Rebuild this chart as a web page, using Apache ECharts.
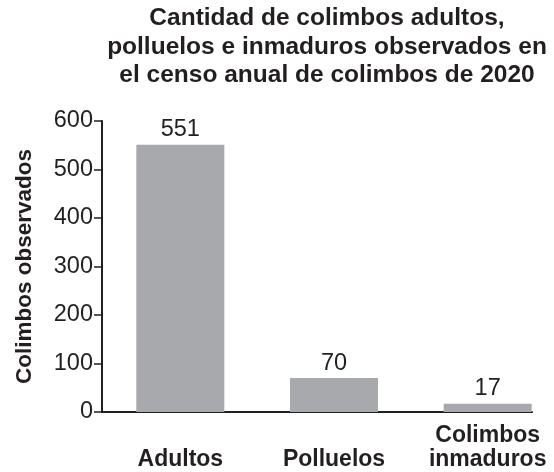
<!DOCTYPE html>
<html>
<head>
<meta charset="utf-8">
<script src="https://cdn.jsdelivr.net/npm/echarts@6/dist/echarts.min.js"></script>
<style>
  html, body { margin: 0; padding: 0; background: #fff; }
  #chart { width: 554px; height: 472px; }
</style>
</head>
<body>
<div id="chart"></div>
<script>
// Census counts by age group
const categories = ['Adultos', 'Polluelos', 'Colimbos\ninmaduros'];
const counts = [551, 70, 17];
const yTicks = { min: 0, max: 600, interval: 100 };

const ink = '#231f20';
const barGray = '#a7a9ac';
const font = 'Liberation Sans, Arial, Helvetica, sans-serif';

const chart = echarts.init(document.getElementById('chart'));
chart.setOption({
  animation: false,
  backgroundColor: '#fff',
  textStyle: { fontFamily: font, color: ink },
  title: {
    text: 'Cantidad de colimbos adultos,\npolluelos e inmaduros observados en\nel censo anual de colimbos de 2020',
    left: 322,
    top: -1,
    textAlign: 'center',
    textStyle: { fontFamily: font, fontWeight: 'bold', fontSize: 24.5, lineHeight: 28.5, color: ink }
  },
  grid: [
    // frame with the visible axes
    { left: 102, top: 121, width: 430, bottom: 60, outerBoundsMode: 'none' },
    // bar area
    { left: 103.5, top: 121, width: 461, bottom: 60, outerBoundsMode: 'none' }
  ],
  xAxis: [
    {
      gridIndex: 0, type: 'value', min: 0, max: 1,
      axisLine: { show: true, lineStyle: { color: ink, width: 2 } },
      axisTick: { show: false }, axisLabel: { show: false }, splitLine: { show: false }
    },
    {
      gridIndex: 1, type: 'category', data: categories,
      axisLine: { show: false }, axisTick: { show: false },
      axisLabel: {
        fontFamily: font, fontWeight: 'bold', fontSize: 23, lineHeight: 24, color: ink,
        verticalAlign: 'bottom', margin: 60, interval: 0
      }
    }
  ],
  yAxis: [
    {
      gridIndex: 0, type: 'value', min: yTicks.min, max: yTicks.max, interval: yTicks.interval,
      name: 'Colimbos observados', nameLocation: 'middle', nameGap: 66,
      nameTextStyle: { fontFamily: font, fontWeight: 'bold', fontSize: 22.5, color: ink },
      axisLine: { show: true, lineStyle: { color: ink, width: 2 } },
      axisTick: { show: true, length: 8, lineStyle: { color: ink, width: 1.5 } },
      axisLabel: { fontFamily: font, fontSize: 23.5, color: ink, margin: 9 },
      splitLine: { show: false }
    },
    {
      gridIndex: 1, type: 'value', min: yTicks.min, max: yTicks.max, interval: yTicks.interval,
      show: false
    }
  ],
  series: [{
    type: 'bar',
    xAxisIndex: 1, yAxisIndex: 1,
    data: counts,
    barWidth: 88,
    itemStyle: { color: barGray },
    label: {
      show: true, position: 'top', distance: 3,
      fontFamily: font, fontSize: 23.5, color: ink
    }
  }]
});
</script>
</body>
</html>
